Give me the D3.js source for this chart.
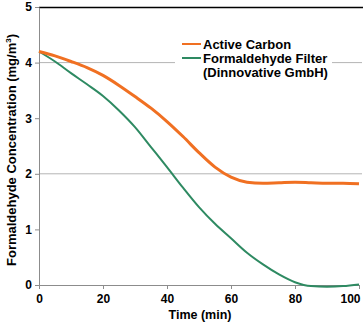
<!DOCTYPE html>
<html>
<head>
<meta charset="utf-8">
<script src="https://cdn.jsdelivr.net/npm/d3@7"></script>
<style>
body { margin: 0; background: #fff; }
text { font-family: "Liberation Sans", Arial, sans-serif; font-weight: bold; fill: #000; }
</style>
</head>
<body>
<svg id="chart" width="363" height="322"></svg>
<script>
// minutes
var times = [0, 5, 10, 15, 20, 25, 30, 35, 40, 45, 50, 55, 60, 65, 70, 75, 80, 85, 90, 95, 100];
var activeCarbon = [4.20, 4.12, 4.02, 3.91, 3.77, 3.59, 3.39, 3.18, 2.94, 2.67, 2.38, 2.12, 1.94, 1.85, 1.83, 1.84, 1.85, 1.84, 1.83, 1.83, 1.82];
var dinnovative = [4.20, 4.02, 3.81, 3.61, 3.40, 3.14, 2.84, 2.48, 2.12, 1.75, 1.40, 1.10, 0.84, 0.58, 0.37, 0.19, 0.05, -0.02, -0.03, -0.02, 0.01];
var xTicks = [0, 20, 40, 60, 80, 100];
var yTicks = [0, 1, 2, 3, 4, 5];
var gridVals = [2, 4];
var seriesNames = ["Active Carbon", "Formaldehyde Filter", "(Dinnovative GmbH)"];

var svg = d3.select("#chart"),
	width = +svg.attr("width"),
	mLeft = 39, mRight = 359, mTop = 7, mBottom = 285,
	x = d3.scaleLinear().domain([0, 100]).range([mLeft, mRight]),
	y = d3.scaleLinear().domain([0, 5]).range([mBottom, mTop]);

// gridlines
svg.selectAll(".grid").data(gridVals).enter().append("line")
	.attr("x1", mLeft).attr("x2", width - 1)
	.attr("y1", function(d) { return y(d); }).attr("y2", function(d) { return y(d); })
	.attr("stroke", "#b4b4b4").attr("stroke-width", 1);

// top border
svg.append("line")
	.attr("x1", mLeft).attr("x2", width).attr("y1", y(5) + 0.5).attr("y2", y(5) + 0.5)
	.attr("stroke", "#000").attr("stroke-width", 1.3);

// y axis
var yAxis = svg.append("g").attr("transform", "translate(" + mLeft + ",0)")
	.call(d3.axisLeft(y).tickValues(yTicks).tickSize(4).tickSizeOuter(0).tickFormat(d3.format("d")));
yAxis.select(".domain").attr("stroke", "#8c8c8c");
yAxis.selectAll(".tick line").attr("stroke", "#8c8c8c");
yAxis.selectAll(".tick text").attr("x", -7).style("font-size", "12px").style("font-family", "Liberation Sans, Arial, sans-serif").style("font-weight", "bold");

// x axis
var xAxis = svg.append("g").attr("transform", "translate(0," + mBottom + ")")
	.call(d3.axisBottom(x).tickValues(xTicks).tickSize(4).tickSizeOuter(0));
xAxis.select(".domain").attr("stroke", "#8c8c8c");
xAxis.selectAll(".tick line").attr("stroke", "#8c8c8c");
xAxis.selectAll(".tick text").attr("y", 9).style("font-size", "12px").style("font-family", "Liberation Sans, Arial, sans-serif").style("font-weight", "bold");
xAxis.selectAll(".tick text").filter(function(d) { return d === 100; })
	.attr("text-anchor", "end").attr("dx", "1");

// axis titles
svg.append("text")
	.attr("x", 200).attr("y", 319)
	.attr("text-anchor", "middle").style("font-size", "12.5px")
	.text("Time (min)");

var yt = svg.append("text")
	.attr("transform", "translate(16,150) rotate(-90)")
	.attr("text-anchor", "middle").style("font-size", "13px");
yt.append("tspan").text("Formaldehyde Concentration  (mg/m");
yt.append("tspan").attr("dy", -5).style("font-size", "8px").text("3");
yt.append("tspan").attr("dy", 5).text(")");

// lines
var line = d3.line()
	.x(function(d) { return x(d[0]); })
	.y(function(d) { return y(d[1]); })
	.curve(d3.curveMonotoneX);

svg.append("path")
	.datum(d3.zip(times, dinnovative))
	.attr("fill", "none").attr("stroke", "#2e8a62").attr("stroke-width", 2)
	.attr("d", line);

svg.append("path")
	.datum(d3.zip(times, activeCarbon))
	.attr("fill", "none").attr("stroke", "#f07022").attr("stroke-width", 3)
	.attr("d", line);

// legend
var lg = svg.append("g");
lg.append("rect").attr("x", 175).attr("y", 34).attr("width", 157).attr("height", 46).attr("fill", "#fff");
lg.append("line").attr("x1", 182).attr("x2", 201).attr("y1", 44).attr("y2", 44)
	.attr("stroke", "#f07022").attr("stroke-width", 2);
lg.append("line").attr("x1", 182).attr("x2", 201).attr("y1", 58).attr("y2", 58)
	.attr("stroke", "#2e8a62").attr("stroke-width", 2);
lg.selectAll(".lt").data(seriesNames).enter().append("text")
	.attr("x", 203).attr("y", function(d, i) { return 49 + i * 14; })
	.style("font-size", "13px")
	.text(function(d) { return d; });
</script>
</body>
</html>
